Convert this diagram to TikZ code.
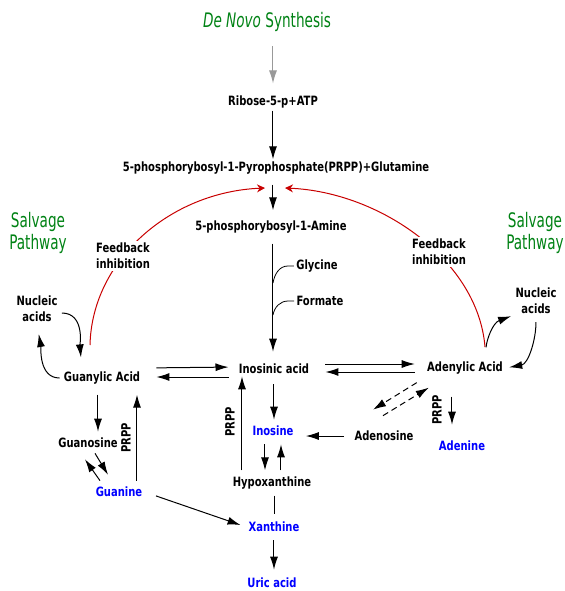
\documentclass[tikz,border=0pt]{standalone}
\usepackage{fontspec}
\usetikzlibrary{arrows.meta,calc}
\newfontfamily\chemfont{DejaVu Sans}[FakeStretch=0.78]
\newfontfamily\titlefont{DejaVu Sans}[FakeStretch=0.68]
\definecolor{pathgreen}{RGB}{0,130,20}
\definecolor{basesblue}{RGB}{0,0,255}
\definecolor{inhibred}{RGB}{200,0,0}
\begin{document}
\begin{tikzpicture}[x=0.5pt, y=-0.5pt,
    every node/.style={inner sep=1pt, font=\fontsize{6.4}{7.8}\chemfont\bfseries},
    title/.style={text=pathgreen, align=center, font=\fontsize{10}{11}\titlefont},
    base/.style={text=basesblue},
    flow/.style={->, line width=0.5pt, >={Latex[length=6.5pt,width=4pt]}},
    inhib/.style={->, inhibred, line width=0.5pt, >={Stealth[length=4pt,width=4pt]}},
    rev/.style={densely dashed, line width=0.5pt}]
    \useasboundingbox (0,0) rectangle (565,591);

    % De novo
    \node (denovo) at (267,22) [title] {\textit{De Novo} Synthesis};
    \node (ribose) at (273,102) {Ribose-5-p+ATP};
    \node (prpp) at (276,168) {5-phosphorybosyl-1-Pyrophosphate(PRPP)+Glutamine};
    \node (amine) at (271,227) {5-phosphorybosyl-1-Amine};
    \node (glycine) at (317,266) {Glycine};
    \node (formate) at (320,301) {Formate};
    \coordinate (gjoin) at (273,283);
    \coordinate (fjoin) at (273,315);

    % Acidi
    \node (inosinic) at (274,369) {Inosinic acid};
    \node (guanylic) at (102,378) {Guanylic Acid};
    \node (adenylic) at (465,368) {Adenylic Acid};

    % Salvage
    \node (salvL) at (38,233) [title] {Salvage\\Pathway};
    \node (salvR) at (535,233) [title] {Salvage\\Pathway};
    \node (nucL) at (37,309) [align=center] {Nucleic\\acids};
    \node (nucR) at (536,301) [align=center] {Nucleic\\acids};

    % Basi
    \node (guanosine) at (88,443) {Guanosine};
    \node (guanine) at (119,492) [base] {Guanine};
    \node (inosine) at (273,431) [base] {Inosine};
    \node (adenosine) at (384,436) {Adenosine};
    \node (adenine) at (462,446) [base] {Adenine};
    \node (hypox) at (272,483) {Hypoxanthine};
    \node (xanthine) at (274,527) [base] {Xanthine};
    \node (uric) at (272,583) [base] {Uric acid};

    % PRPP
    \node (prppG) at (126,438) [rotate=90] {PRPP};
    \node (prppH) at (230,422) [rotate=90] {PRPP};
    \node (prppA) at (437,410) [rotate=90] {PRPP};

    % Via principale
    \draw[flow, gray!80, shorten >=6pt] (denovo.south -| ribose) ++(0,12) coordinate (dtop) -- ([yshift=-1pt]ribose.north);
    \draw[flow] (ribose.south) -- (ribose.south |- prpp.north);
    \draw[flow, shorten <=4pt, shorten >=4pt] (prpp.south -| ribose) -- (amine.north -| ribose);
    \draw[flow, shorten <=4pt, shorten >=5pt] (amine.south -| ribose) -- (inosinic.north -| ribose);
    \draw (glycine.west) -- ++(-6,0) to[out=180,in=80] (gjoin);
    \draw (formate.west) -- ++(-6,0) to[out=180,in=80] (fjoin);

    % Feedback
    \coordinate (fbLs) at (90,345);
    \coordinate (fbLe) at (265,188);
    \coordinate (fbRs) at (485,347);
    \coordinate (fbRe) at (285,188);
    \draw[inhib] (fbLs) .. controls (92,260) and (170,192) .. (fbLe);
    \draw[inhib] (fbRs) .. controls (478,260) and (380,192) .. (fbRe);
    \node (fbL) at (123,256) [align=center, fill=white] {Feedback\\inhibition};
    \node (fbR) at (439,252) [align=center, fill=white] {Feedback\\inhibition};

    % Doppie frecce
    \draw[flow, shorten <=7pt, shorten >=4pt] ($(guanylic.east)+(0,-10)$) -- ($(inosinic.west)+(0,-2)$);
    \draw[flow, shorten <=4pt, shorten >=7pt] ($(inosinic.west)+(0,8)$) -- ($(guanylic.east)+(0,-1)$);
    \draw[flow, shorten <=7pt, shorten >=5pt] ($(inosinic.east)+(0,-5)$) -- ($(adenylic.west)+(0,-4)$);
    \draw[flow, shorten <=5pt, shorten >=7pt] ($(adenylic.west)+(0,4)$) -- ($(inosinic.east)+(0,3)$);

    % Nucleic acids
    \draw[flow, shorten >=6pt] (nucL.east) ++(2,4) to[out=0,in=95] ($(guanylic.north)+(-20,0)$);
    \draw[flow, shorten <=1pt, shorten >=5pt] (guanylic.west) to[out=180,in=-80] (nucL.south);
    \draw[flow, shorten <=6pt] ($(adenylic.north)+(20,0)$) to[out=85,in=200] ($(nucR.south west)+(-2,0)$);
    \draw[flow, shorten <=3pt, shorten >=2pt] (nucR.south) to[out=-90,in=10] (adenylic.east);

    % Guanina
    \draw[flow, shorten <=4pt, shorten >=2pt] ($(guanylic.south)+(-4,0)$) -- ($(guanylic.south |- guanosine.north)+(-4,0)$);
    \draw[flow] ($(guanosine.south)+(7,3)$) -- ($(guanine.north)+(-11,-10)$);
    \draw[flow] ($(guanine.north)+(-19,-4)$) -- ($(guanosine.south)+(-3,9)$);
    \draw[flow, shorten <=2pt, shorten >=4pt] ($(guanine.north)+(18,0)$) -- ($(guanine.north |- guanylic.south)+(18,0)$);
    \draw[flow, shorten <=6pt, shorten >=3pt] (guanine.east) -- (xanthine.west);

    % Ipoxantina
    \draw[flow, shorten <=4pt, shorten >=2pt] (inosinic.south) -- (inosinic.south |- inosine.north);
    \draw[flow, shorten <=3pt, shorten >=2pt] ($(inosine.south)+(-8,0)$) -- ($(inosine.south |- hypox.north)+(-8,0)$);
    \draw[flow, shorten <=2pt, shorten >=3pt] ($(inosine.south |- hypox.north)+(8,0)$) -- ($(inosine.south)+(8,0)$);
    \draw[shorten <=2pt, shorten >=3pt] (hypox.south -| xanthine) -- (xanthine.north);
    \draw[flow, shorten <=3pt, shorten >=3pt] (xanthine.south) -- (xanthine.south |- uric.north);
    \draw[flow, shorten <=2pt] ($(hypox.north)+(-30,0)$) -- ($(hypox.north |- inosinic.south)+(-30,0)$);
    \draw[flow, shorten <=4pt, shorten >=5pt] (adenosine.west) -- (adenosine.west -| inosine.east);

    % Adenina
    \draw[flow, rev] ($(adenylic.south west)+(-8,6)$) -- ($(adenosine.north)+(-11,-19)$);
    \draw[flow, rev] ($(adenosine.north)+(-1,-13)$) -- ($(adenylic.south west)+(4,11)$);
    \draw[flow, shorten <=10pt, shorten >=7pt] ($(adenylic.south)+(-13,0)$) -- ($(adenylic.south |- adenine.north)+(-13,0)$);
\end{tikzpicture}
\end{document}
